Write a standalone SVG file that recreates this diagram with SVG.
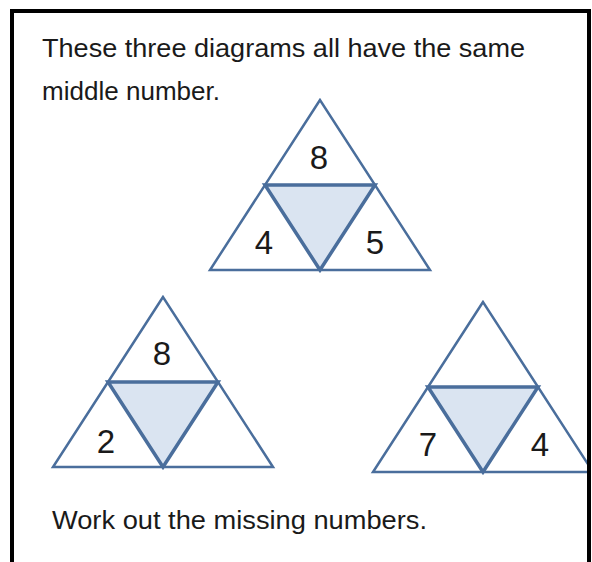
<svg xmlns="http://www.w3.org/2000/svg" width="592" height="562" viewBox="0 0 592 562">
<style>
.outer{fill:#ffffff;stroke:#4a6e9c;stroke-width:2.5;stroke-linejoin:miter}
.inner{fill:#dae4f1;stroke:#4a6e9c;stroke-width:3.5;stroke-linejoin:miter}
.txt{font-family:"Liberation Sans","Noto Sans",Arial,sans-serif;font-size:25px;fill:#1a1a1a}
.num{font-family:"Liberation Sans","Noto Sans",Arial,sans-serif;font-size:33px;fill:#1a1a1a;text-anchor:middle}
</style>
<defs>
<g id="tri">
<polygon class="outer" points="0,0 -110,170 110,170"/>
<polygon class="inner" points="-55,85 55,85 0,170"/>
</g>
<clipPath id="inside">
<rect x="0" y="0" width="588" height="562"/>
</clipPath>
</defs>
<rect x="0" y="0" width="592" height="562" fill="#ffffff"/>
<g id="title">
<text class="txt" x="42" y="57" textLength="483" lengthAdjust="spacingAndGlyphs">These three diagrams all have the same</text>
<text class="txt" x="42" y="100" textLength="178" lengthAdjust="spacingAndGlyphs">middle number.</text>
</g>
<g id="diagram-top">
<use href="#tri" transform="translate(320,100)"/>
<text class="num" x="319" y="169">8</text>
<text class="num" x="264" y="254">4</text>
<text class="num" x="375" y="254">5</text>
</g>
<g id="diagram-left">
<use href="#tri" transform="translate(163,297)"/>
<text class="num" x="162" y="365">8</text>
<text class="num" x="106" y="453">2</text>
</g>
<g id="diagram-right" clip-path="url(#inside)">
<use href="#tri" transform="translate(483,302)"/>
<text class="num" x="428" y="456">7</text>
<text class="num" x="540" y="456">4</text>
</g>
<g id="question">
<text class="txt" x="52" y="529" textLength="375" lengthAdjust="spacingAndGlyphs">Work out the missing numbers.</text>
</g>
<g id="connectors"></g>
<rect id="border" x="12" y="11" width="577" height="600" fill="none" stroke="#000000" stroke-width="4"/>
</svg>
